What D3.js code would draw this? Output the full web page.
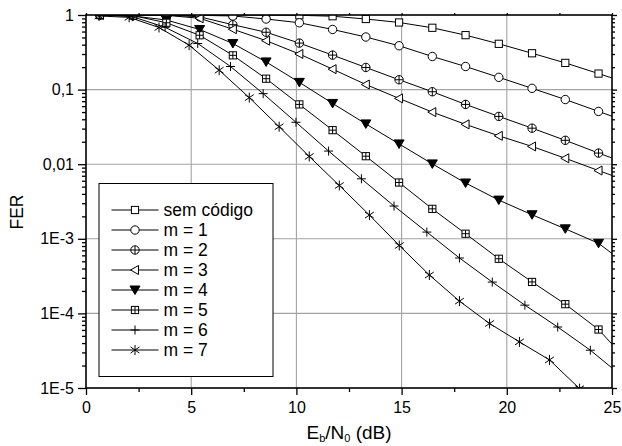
<!DOCTYPE html>
<html>
<head>
<meta charset="utf-8">
<script src="https://cdnjs.cloudflare.com/ajax/libs/d3/7.8.5/d3.min.js"></script>
<style>
body{margin:0;background:#fff;}
svg{display:block;font-family:"Liberation Sans",Arial,sans-serif;}
</style>
</head>
<body>
<div id="chart"></div>
<script>
// Eb/N0 grids (dB), one per group of curves
var xA = [0.66, 2.24, 3.82, 5.40, 6.98, 8.56, 10.14, 11.72, 13.30, 14.88, 16.46, 18.04, 19.62, 21.20, 22.78, 24.36, 25.94];
var xB = [0.65, 2.20, 3.76, 5.31, 6.87, 8.42, 9.98, 11.53, 13.09, 14.64, 16.20, 17.75, 19.31, 20.86, 22.42, 23.97, 25.53];
var xC = [0.62, 2.05, 3.47, 4.90, 6.33, 7.76, 9.18, 10.61, 12.04, 13.47, 14.89, 16.32, 17.75, 19.18, 20.60, 22.03, 23.46];

// FER values
var semCodigo = [1.0, 1.0, 1.0, 0.999, 0.998, 0.995, 0.99, 0.963, 0.884, 0.794, 0.674, 0.537, 0.411, 0.307, 0.228, 0.164, 0.117];
var m1 = [1.0, 1.0, 0.999, 0.99, 0.97, 0.884, 0.787, 0.64, 0.507, 0.387, 0.278, 0.204, 0.146, 0.104, 0.0736, 0.051, 0.0353];
var m2 = [1.0, 1.0, 0.995, 0.946, 0.741, 0.587, 0.42, 0.29, 0.198, 0.1355, 0.0936, 0.0633, 0.0437, 0.0304, 0.0209, 0.0141, 0.00966];
var m3 = [1.0, 1.0, 0.99, 0.903, 0.645, 0.453, 0.30, 0.188, 0.117, 0.0762, 0.0499, 0.0342, 0.024, 0.0173, 0.012, 0.00822, 0.00565];
var m4 = [1.0, 0.97, 0.857, 0.64, 0.415, 0.235, 0.125, 0.0653, 0.0347, 0.0187, 0.0101, 0.0056, 0.0033, 0.0021, 0.00136, 0.00087, 0.0004];
var m5 = [1.0, 0.98, 0.787, 0.535, 0.288, 0.14, 0.0633, 0.0286, 0.0128, 0.00568, 0.00252, 0.00117, 0.00054, 0.000264, 0.000133, 0.0000608, 0.00002];
var m6 = [1.0, 0.95, 0.684, 0.415, 0.204, 0.0883, 0.0365, 0.015, 0.00637, 0.00275, 0.00123, 0.000553, 0.000263, 0.000129, 0.0000657, 0.0000321, 0.000014];
var m7 = [0.97, 0.93, 0.68, 0.394, 0.182, 0.078, 0.0318, 0.0127, 0.00518, 0.00208, 0.000813, 0.000327, 0.000146, 0.0000732, 0.0000415, 0.0000238, 0.0000098];

var seriesNames = ["sem código", "m = 1", "m = 2", "m = 3", "m = 4", "m = 5", "m = 6", "m = 7"];
var markerTypes = ["square", "circle", "circlePlus", "triLeft", "triDown", "squarePlus", "plus", "asterisk"];

var xTicks = [0, 5, 10, 15, 20, 25];
var xMinor = [2.5, 7.5, 12.5, 17.5, 22.5];
var yTicks = [1, 0.1, 0.01, 1e-3, 1e-4, 1e-5];
var yTickLabels = ["1", "0,1", "0,01", "1E-3", "1E-4", "1E-5"];

var series = [
    {x: xA, y: semCodigo}, {x: xA, y: m1}, {x: xA, y: m2}, {x: xA, y: m3},
    {x: xA, y: m4}, {x: xA, y: m5}, {x: xB, y: m6}, {x: xC, y: m7}
].map(function(s, i){
    return {name: seriesNames[i], marker: markerTypes[i], points: s.x.map(function(v, j){ return [v, s.y[j]]; })};
});

var width = 622, height = 446;
var margin = {top: 15, right: 10, bottom: 58, left: 86};
var w = width - margin.left - margin.right,
    h = height - margin.top - margin.bottom;

var svg = d3.select("#chart").append("svg")
    .attr("width", width)
    .attr("height", height);

var xScale = d3.scaleLinear().domain([0, 25]).range([0, w]);
var yScale = d3.scaleLog().domain([1e-5, 1]).range([h, 0]);

// minor ticks of the log axis: 2..9 in every decade
var yMinor = [];
yTicks.slice(1).forEach(function(d){
    for (var k = 2; k <= 9; k++) yMinor.push(d * k);
});

var g = svg.append("g")
    .attr("transform", "translate(" + margin.left + "," + margin.top + ")");

g.append("clipPath").attr("id", "plot-clip")
    .append("rect").attr("x", 0).attr("y", 0).attr("width", w).attr("height", h);

// grid
g.append("g").selectAll("line")
    .data(xTicks.slice(1, -1))
    .enter().append("line")
    .attr("x1", function(d){ return xScale(d); })
    .attr("x2", function(d){ return xScale(d); })
    .attr("y1", 0).attr("y2", h)
    .attr("stroke", "#a3a3a3").attr("stroke-width", 1.1);

g.append("g").selectAll("line")
    .data(yTicks.slice(1, -1))
    .enter().append("line")
    .attr("y1", function(d){ return yScale(d); })
    .attr("y2", function(d){ return yScale(d); })
    .attr("x1", 0).attr("x2", w)
    .attr("stroke", "#a3a3a3").attr("stroke-width", 1.1);

function addMarker(m, type) {
    m.attr("stroke", "#000").attr("stroke-width", 1).attr("fill", "#fff");
    if (type == "square" || type == "squarePlus") {
        m.append("rect").attr("x", -3.6).attr("y", -3.6).attr("width", 7.2).attr("height", 7.2);
        if (type == "squarePlus") m.append("path").attr("d", "M-3.6,0H3.6M0,-3.6V3.6");
    } else if (type == "circle" || type == "circlePlus") {
        m.append("circle").attr("r", 4.2);
        if (type == "circlePlus") m.append("path").attr("d", "M-4.2,0H4.2M0,-4.2V4.2");
    } else if (type == "triLeft") {
        m.append("path").attr("d", "M-4.5,0L3.5,-4.5L3.5,4.5Z");
    } else if (type == "triDown") {
        m.append("path").attr("d", "M-5,-4L5,-4L0,4.5Z").attr("fill", "#000");
    } else if (type == "plus") {
        m.append("path").attr("d", "M-4.5,0H4.5M0,-4.5V4.5");
    } else if (type == "asterisk") {
        m.append("path").attr("d", "M0,-5V5M-4.4,-3L4.4,3M-4.4,3L4.4,-3");
    }
}

var line = d3.line()
    .x(function(d){ return xScale(d[0]); })
    .y(function(d){ return yScale(d[1]); });

var plot = g.append("g").attr("clip-path", "url(#plot-clip)");

var sg = plot.selectAll(".series")
    .data(series)
    .enter().append("g")
    .attr("class", "series");

sg.append("path")
    .attr("d", function(d){ return line(d.points); })
    .attr("fill", "none")
    .attr("stroke", "#000")
    .attr("stroke-width", 1);

sg.each(function(s){
    d3.select(this).selectAll(".mk")
        .data(s.points)
        .enter().append("g")
        .attr("class", "mk")
        .attr("transform", function(d){ return "translate(" + xScale(d[0]) + "," + yScale(d[1]) + ")"; })
        .each(function(){ addMarker(d3.select(this), s.marker); });
});

// axes
g.append("g")
    .call(d3.axisLeft(yScale).tickValues(yTicks).tickSize(8).tickPadding(4)
        .tickFormat(function(d, i){ return yTickLabels[i]; }));
g.append("g").call(d3.axisLeft(yScale).tickValues(yMinor).tickSize(4).tickFormat(""));
g.append("g").attr("transform", "translate(" + w + ",0)")
    .call(d3.axisRight(yScale).tickValues(yTicks).tickSize(5).tickFormat(""));
g.append("g").attr("transform", "translate(" + w + ",0)")
    .call(d3.axisRight(yScale).tickValues(yMinor).tickSize(3).tickFormat(""));

g.append("g")
    .attr("transform", "translate(0," + h + ")")
    .call(d3.axisBottom(xScale).tickValues(xTicks).tickSize(7).tickPadding(7));
g.append("g").attr("transform", "translate(0," + h + ")")
    .call(d3.axisBottom(xScale).tickValues(xMinor).tickSize(4).tickFormat(""));
g.append("g")
    .call(d3.axisTop(xScale).tickValues(xTicks.concat(xMinor)).tickSize(2).tickFormat(""));

g.selectAll(".domain").remove();
g.selectAll(".tick line").attr("stroke", "#000").attr("stroke-width", 1.3);
g.selectAll(".tick text")
    .attr("font-family", "Liberation Sans, Arial, sans-serif")
    .attr("font-size", "16px")
    .attr("fill", "#000");

g.append("rect")
    .attr("width", w).attr("height", h)
    .attr("fill", "none")
    .attr("stroke", "#000")
    .attr("stroke-width", 1.6);

// legend
var legend = g.append("g")
    .attr("transform", "translate(" + (99 - margin.left) + "," + (183.5 - margin.top) + ")");

legend.append("rect")
    .attr("width", 174).attr("height", 193)
    .attr("fill", "#fff")
    .attr("stroke", "#000")
    .attr("stroke-width", 1);

var item = legend.selectAll(".item")
    .data(series)
    .enter().append("g")
    .attr("class", "item")
    .attr("transform", function(d, i){ return "translate(0," + (26.5 + i * 20) + ")"; });

item.append("line")
    .attr("x1", 12.5).attr("x2", 59.5)
    .attr("stroke", "#000").attr("stroke-width", 1);

item.append("g")
    .attr("transform", "translate(36,0)")
    .each(function(d){ addMarker(d3.select(this), d.marker); });

item.append("text")
    .attr("x", 64.5)
    .attr("dy", "0.36em")
    .attr("font-size", "17.5px")
    .text(function(d){ return d.name; });

// axis titles
svg.append("text")
    .attr("transform", "translate(23,212) rotate(-90)")
    .attr("text-anchor", "middle")
    .attr("font-size", "17.5px")
    .text("FER");

var xt = svg.append("text")
    .attr("x", margin.left + w / 2)
    .attr("y", 439)
    .attr("text-anchor", "middle")
    .attr("font-size", "19px");
xt.append("tspan").text("E");
xt.append("tspan").attr("font-size", "11px").attr("dy", "3").text("b");
xt.append("tspan").attr("dy", "-3").text("/N");
xt.append("tspan").attr("font-size", "11px").attr("dy", "3").text("0");
xt.append("tspan").attr("dy", "-3").text(" (dB)");
</script>
</body>
</html>
